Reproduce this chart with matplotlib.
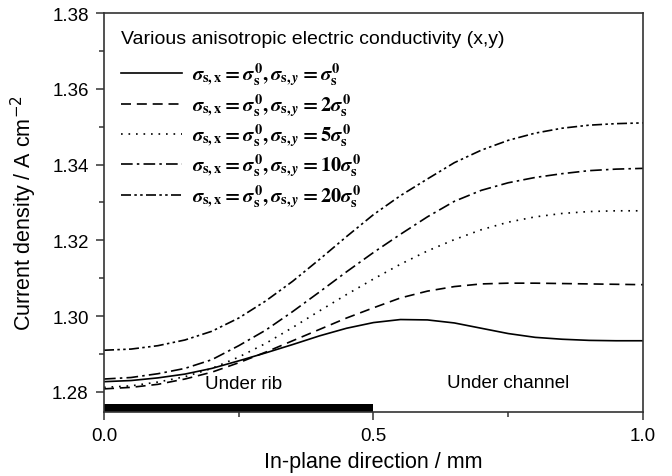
import matplotlib
matplotlib.use('Agg')
import matplotlib.pyplot as plt

plt.rcParams['font.family'] = ['Liberation Sans', 'DejaVu Sans']
plt.rcParams['mathtext.fontset'] = 'custom'
plt.rcParams['mathtext.it'] = 'STIXGeneral:italic:bold'
plt.rcParams['mathtext.rm'] = 'STIXGeneral:bold'
plt.rcParams['mathtext.bf'] = 'STIXGeneral:bold'

# in-plane position (mm)
x = [0.0, 0.05, 0.1, 0.15, 0.2, 0.25, 0.3, 0.35, 0.4, 0.45, 0.5,
     0.55, 0.6, 0.65, 0.7, 0.75, 0.8, 0.85, 0.9, 0.95, 1.0]

# current density (A cm-2)
j_1 = [1.2827, 1.2830, 1.2837, 1.2847, 1.2862, 1.2882, 1.2903, 1.2925, 1.2948, 1.2968, 1.2983,
       1.2991, 1.2990, 1.2982, 1.2968, 1.2954, 1.2944, 1.2939, 1.2936, 1.2935, 1.2935]
j_2 = [1.2808, 1.2812, 1.2820, 1.2834, 1.2852, 1.2877, 1.2905, 1.2935, 1.2965, 1.2995, 1.3022,
       1.3048, 1.3066, 1.3078, 1.3085, 1.3087, 1.3087, 1.3086, 1.3085, 1.3084, 1.3083]
j_5 = [1.2812, 1.2816, 1.2826, 1.2840, 1.2862, 1.2892, 1.2928, 1.2970, 1.3014, 1.3057, 1.3098,
       1.3137, 1.3172, 1.3202, 1.3228, 1.3248, 1.3262, 1.3271, 1.3276, 1.3278, 1.3278]
j_10 = [1.2834, 1.2838, 1.2848, 1.2862, 1.2885, 1.2922, 1.2963, 1.3012, 1.3064, 1.3117, 1.3168,
        1.3216, 1.3262, 1.3303, 1.3332, 1.3352, 1.3366, 1.3376, 1.3384, 1.3388, 1.3390]
j_20 = [1.2910, 1.2913, 1.2922, 1.2937, 1.2960, 1.2995, 1.3040, 1.3092, 1.3150, 1.3210, 1.3268,
        1.3318, 1.3362, 1.3405, 1.3438, 1.3464, 1.3483, 1.3496, 1.3504, 1.3508, 1.3510]

labels = [r'$\sigma_{\rm s,x} = \sigma_{\rm s}^{0}, \sigma_{{\rm s},y} = \sigma_{\rm s}^{0}$',
          r'$\sigma_{\rm s,x} = \sigma_{\rm s}^{0}, \sigma_{{\rm s},y} = 2\sigma_{\rm s}^{0}$',
          r'$\sigma_{\rm s,x} = \sigma_{\rm s}^{0}, \sigma_{{\rm s},y} = 5\sigma_{\rm s}^{0}$',
          r'$\sigma_{\rm s,x} = \sigma_{\rm s}^{0}, \sigma_{{\rm s},y} = 10\sigma_{\rm s}^{0}$',
          r'$\sigma_{\rm s,x} = \sigma_{\rm s}^{0}, \sigma_{{\rm s},y} = 20\sigma_{\rm s}^{0}$']

# rib region bar
rib_x = [0.0, 0.5]
rib_top = 1.2768

fig = plt.figure(figsize=(6.72, 4.77), dpi=100)
ax = fig.add_axes([0.1548, 0.1342, 0.802, 0.8364])

lw = 1.2
ax.plot(x, j_1, color='black', linestyle='-', lw=lw, label=labels[0])
ax.plot(x, j_2, color='black', linestyle=(0, (6, 3.5)), lw=lw, label=labels[1])
ax.plot(x, j_5, color='black', linestyle=(0, (1, 3.5)), lw=lw, label=labels[2])
ax.plot(x, j_10, color='black', linestyle=(0, (7, 2.5, 1.5, 2.5)), lw=lw, label=labels[3])
ax.plot(x, j_20, color='black', linestyle=(0, (6, 2, 1.5, 2, 1.5, 2)), lw=lw, label=labels[4])

ylo = 1.2747
ax.fill_between(rib_x, ylo, rib_top, color='black', lw=0)

ax.text(0.258, 1.2821, 'Under rib', fontsize=13.5, ha='center', va='center')
ax.text(0.75, 1.2826, 'Under channel', fontsize=13.5, ha='center', va='center')

ax.set_xlim(0, 1.0)
ax.set_ylim(ylo, 1.38)
ax.set_xticks([0.0, 0.5, 1.0])
ax.set_xticks([0.25, 0.75], minor=True)
ax.set_yticks([1.28, 1.30, 1.32, 1.34, 1.36, 1.38])
ax.set_yticks([1.29, 1.31, 1.33, 1.35, 1.37], minor=True)
ax.set_xticklabels(['0.0', '0.5', '1.0'])
ax.set_yticklabels(['1.28', '1.30', '1.32', '1.34', '1.36', '1.38'])
ax.tick_params(which='both', direction='out', labelsize=13.5, color='#333333', width=1.1)
ax.tick_params(which='major', length=6, pad=5)
ax.tick_params(which='minor', length=3.5)
for s in ax.spines.values():
    s.set_linewidth(1.2)
    s.set_color('#333333')

ax.set_xlabel('In-plane direction / mm', fontsize=15.5, labelpad=5)
ax.set_ylabel(r'Current density / A cm$^{\mathsf{-2}}$', fontsize=15.5, labelpad=10)

ax.text(0.031, 0.935, 'Various anisotropic electric conductivity (x,y)', fontsize=14,
        ha='left', va='center', transform=ax.transAxes)
leg = ax.legend(loc='upper left', bbox_to_anchor=(0.031, 0.88), frameon=False,
                fontsize=14.6, handlelength=3.0, handletextpad=0.5,
                labelspacing=0.15, borderaxespad=0, borderpad=0)

plt.savefig('out.png', dpi=100)
